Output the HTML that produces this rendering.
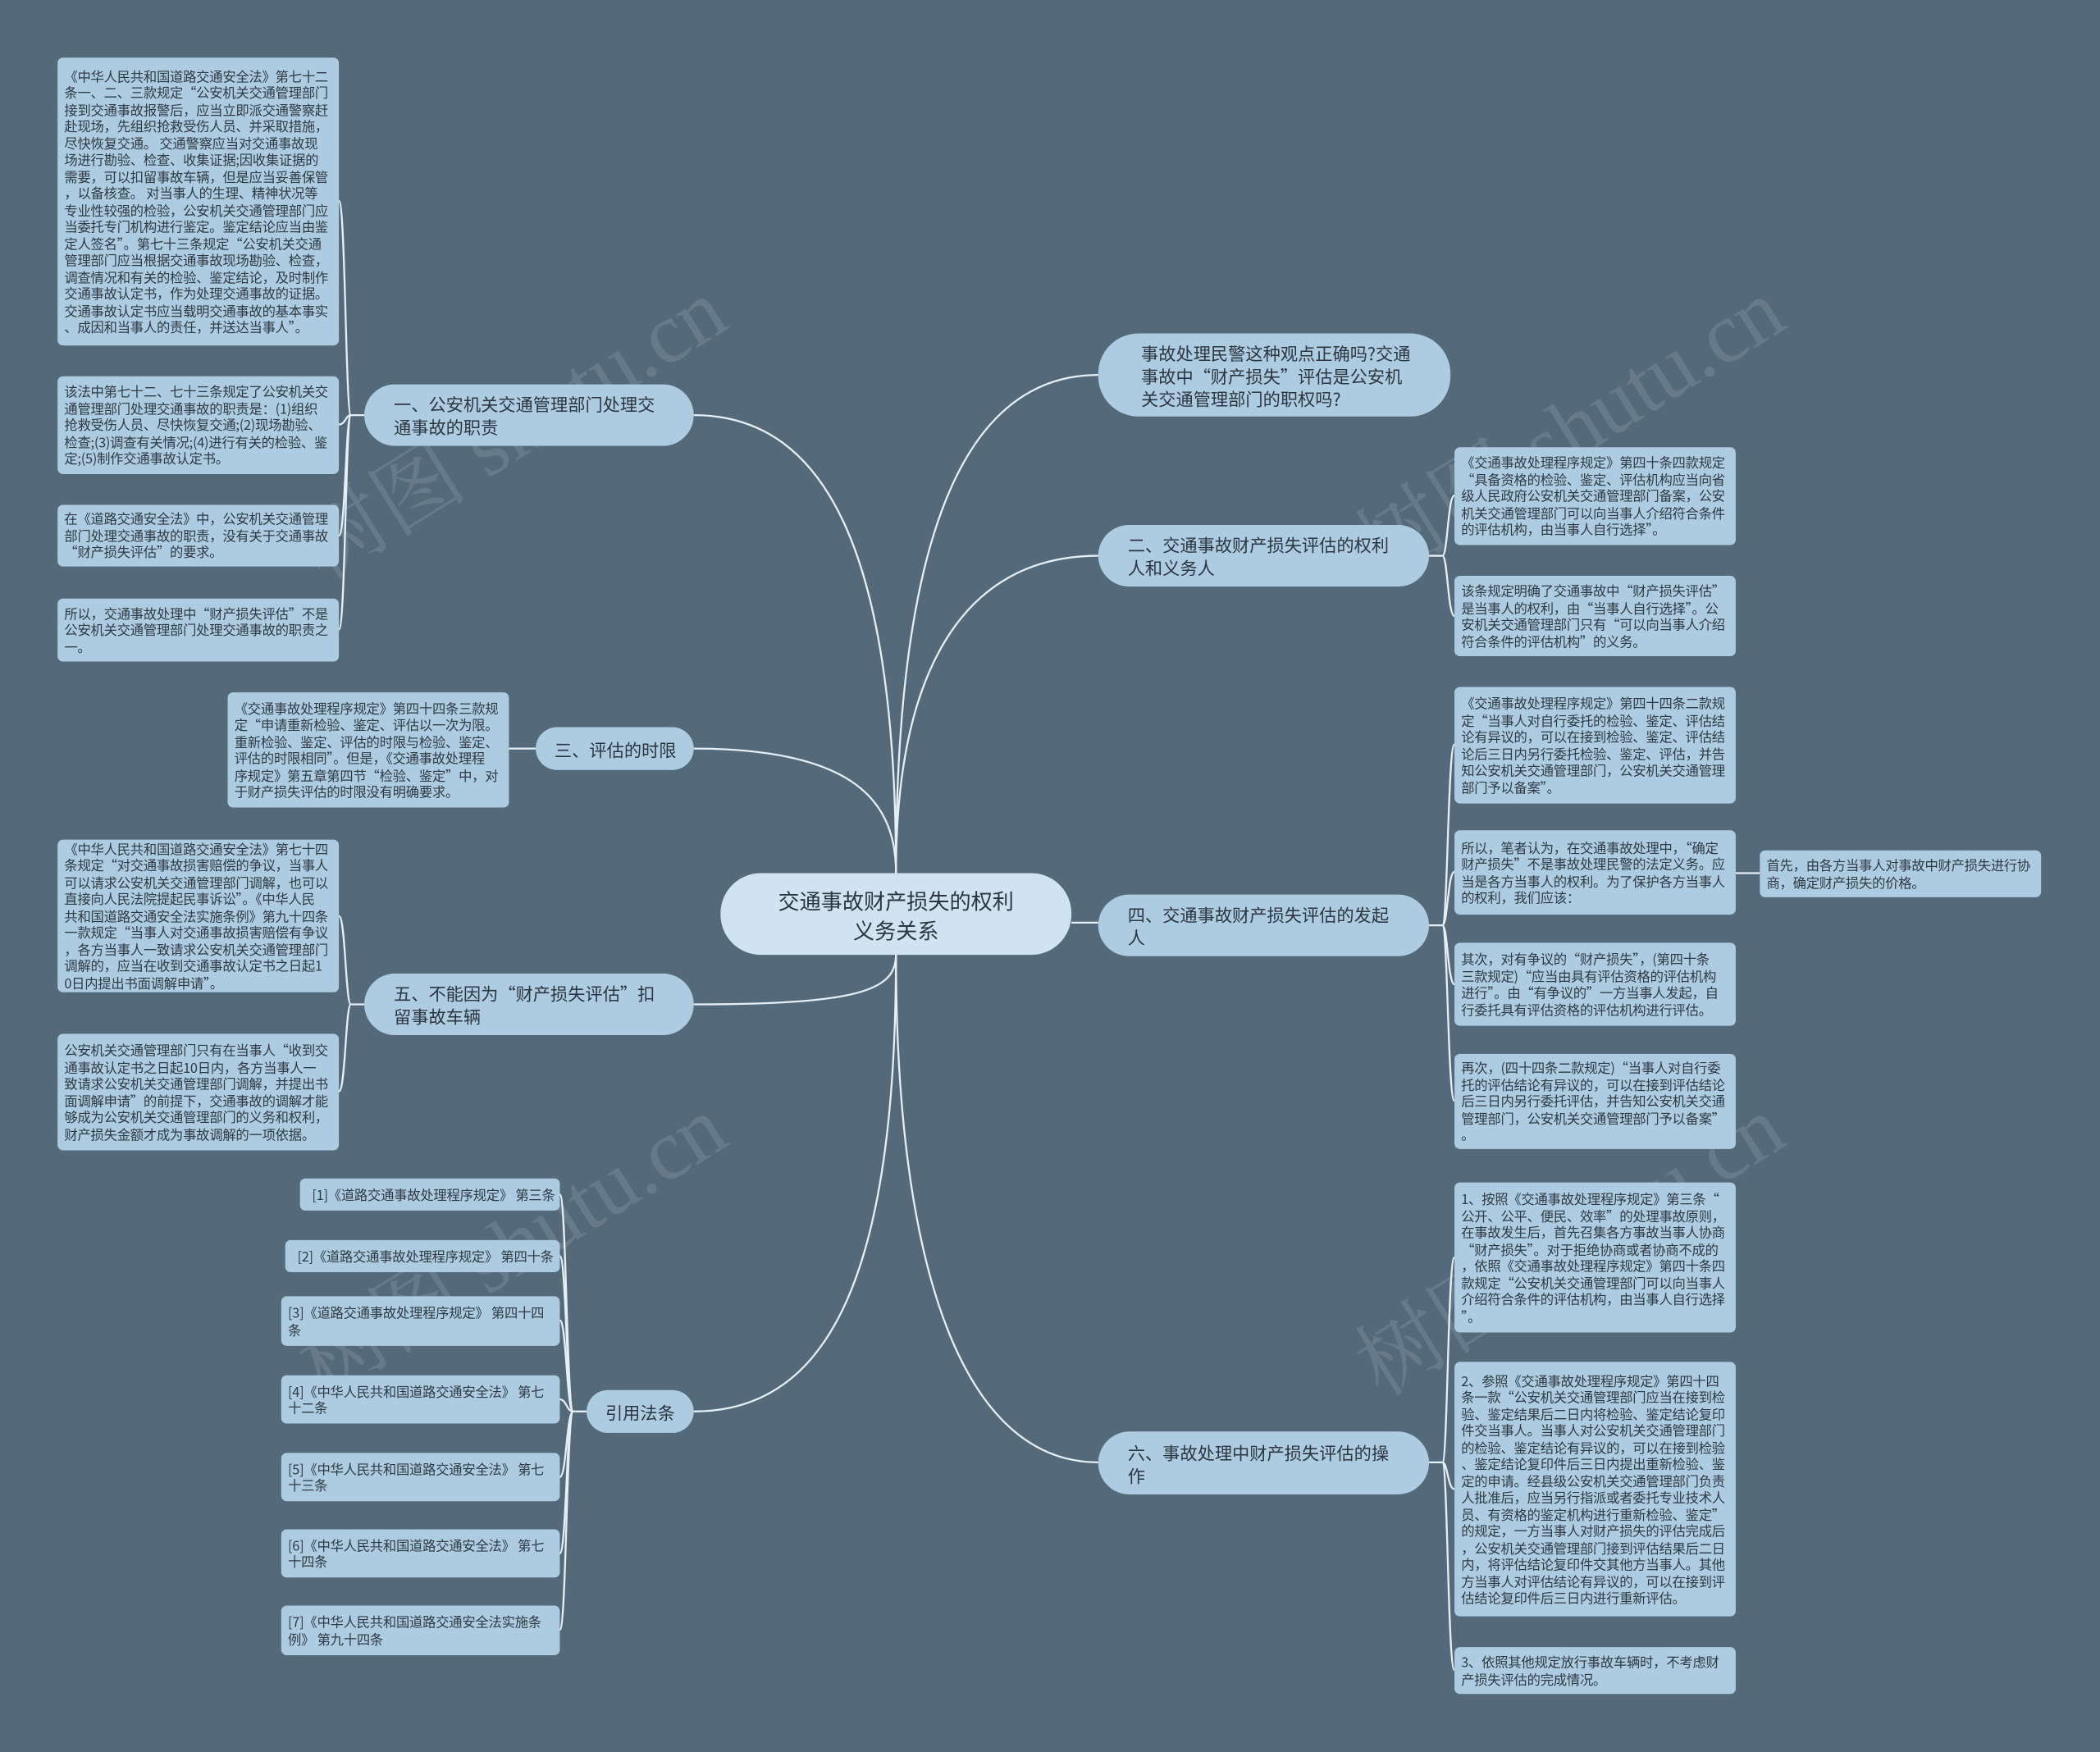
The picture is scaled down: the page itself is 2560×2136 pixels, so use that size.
<!DOCTYPE html>
<html><head><meta charset="utf-8">
<style>
html,body{margin:0;padding:0;width:2560px;height:2136px;overflow:hidden;background:#546a7b;}
#w{position:absolute;left:0;top:0;width:1568px;height:1308px;transform:scale(1.63265);transform-origin:0 0;font-family:"Noto Sans CJK SC","Liberation Sans",sans-serif;color:#2e3a44;}
.n{position:absolute;box-sizing:border-box;background:#adcbe1;border-radius:4px;display:flex;align-items:center;font-size:10px;line-height:12.5px;padding:0 5px;white-space:nowrap;letter-spacing:-0.15px;}
.b{position:absolute;box-sizing:border-box;background:#adcbe1;border-radius:24px;display:flex;align-items:center;font-size:13px;line-height:17px;padding:0 22px;white-space:nowrap;color:#2b3640;}
.wm{position:absolute;font-size:64px;color:rgba(150,165,176,0.28);transform:rotate(-32deg);white-space:nowrap;font-family:"Liberation Serif","Noto Serif CJK SC",serif;}
svg{position:absolute;left:0;top:0;}
</style></head><body><div id="w">
<div class="wm" style="left:200px;top:270px">树图 shutu.cn</div>
<div class="wm" style="left:990px;top:270px">树图 shutu.cn</div>
<div class="wm" style="left:200px;top:880px">树图 shutu.cn</div>
<div class="wm" style="left:990px;top:880px">树图 shutu.cn</div>
<svg width="1568" height="1308" fill="none" stroke="#e6eff5" stroke-width="1.4">
<path d="M669,652 C669,400 720,280 820,280"/>
<path d="M669,652 C669,500 720,415 820,415"/>
<path d="M800,689 L820,689"/>
<path d="M669,713 C669,950 720,1092 820,1092"/>
<path d="M669,652 C669,420 620,310 518,310"/>
<path d="M669,652 C669,600 640,559 518,559"/>
<path d="M669,713 C669,740 640,750 518,750"/>
<path d="M669,713 C669,950 620,1054 518,1054"/>
<path d="M272,310 L262,310"/>
<path d="M262,310 C258,310 258,150 253,150"/>
<path d="M262,310 C258,310 258,317 253,317"/>
<path d="M262,310 C258,310 258,400 253,400"/>
<path d="M262,310 C258,310 258,470 253,470"/>
<path d="M400,559 L380,559"/>
<path d="M272,750 L262,750"/>
<path d="M262,750 C258,750 258,684 253,684"/>
<path d="M262,750 C258,750 258,815 253,815"/>
<path d="M438,1054 L428,1054"/>
<path d="M428,1054 C423,1054 423,892 418,892"/>
<path d="M428,1054 C423,1054 423,938 418,938"/>
<path d="M428,1054 C423,1054 423,986 418,986"/>
<path d="M428,1054 C423,1054 423,1045 418,1045"/>
<path d="M428,1054 C423,1054 423,1103 418,1103"/>
<path d="M428,1054 C423,1054 423,1160 418,1160"/>
<path d="M428,1054 C423,1054 423,1217 418,1217"/>
<path d="M1067,415 L1077,415"/>
<path d="M1077,415 C1081,415 1081,370 1086,370"/>
<path d="M1077,415 C1081,415 1081,460 1086,460"/>
<path d="M1067,691 L1077,691"/>
<path d="M1077,691 C1081,691 1081,556 1086,556"/>
<path d="M1077,691 C1081,691 1081,651 1086,651"/>
<path d="M1077,691 C1081,691 1081,735 1086,735"/>
<path d="M1077,691 C1081,691 1081,822 1086,822"/>
<path d="M1296,652 L1314,652"/>
<path d="M1067,1092 L1077,1092"/>
<path d="M1077,1092 C1081,1092 1081,939 1086,939"/>
<path d="M1077,1092 C1081,1092 1081,1112 1086,1112"/>
<path d="M1077,1092 C1081,1092 1081,1247 1086,1247"/>
</svg>

<div class="b" style="left:538px;top:652px;width:262px;height:61px;background:#cfe4f0;border-radius:30px;font-size:16px;line-height:22px;justify-content:center;text-align:center;padding:0">交通事故财产损失的权利<br>义务关系</div>

<div class="b" style="left:820px;top:249px;width:263px;height:62px;border-radius:30px;padding-left:32px">事故处理民警这种观点正确吗?交通<br>事故中“财产损失”评估是公安机<br>关交通管理部门的职权吗?</div>
<div class="b" style="left:820px;top:392px;width:247px;height:46px">二、交通事故财产损失评估的权利<br>人和义务人</div>
<div class="b" style="left:820px;top:668px;width:247px;height:46px">四、交通事故财产损失评估的发起<br>人</div>
<div class="b" style="left:820px;top:1069px;width:247px;height:47px">六、事故处理中财产损失评估的操<br>作</div>

<div class="b" style="left:272px;top:287px;width:246px;height:46px">一、公安机关交通管理部门处理交<br>通事故的职责</div>
<div class="b" style="left:400px;top:543px;width:118px;height:32px;padding-left:14px">三、评估的时限</div>
<div class="b" style="left:272px;top:727px;width:246px;height:46px">五、不能因为“财产损失评估”扣<br>留事故车辆</div>
<div class="b" style="left:438px;top:1038px;width:80px;height:32px;padding-left:14px">引用法条</div>

<div class="n" style="left:43px;top:43px;width:210px;height:215px">《中华人民共和国道路交通安全法》第七十二<br>条一、二、三款规定“公安机关交通管理部门<br>接到交通事故报警后，应当立即派交通警察赶<br>赴现场，先组织抢救受伤人员、并采取措施，<br>尽快恢复交通。 交通警察应当对交通事故现<br>场进行勘验、检查、收集证据;因收集证据的<br>需要，可以扣留事故车辆，但是应当妥善保管<br>，以备核查。 对当事人的生理、精神状况等<br>专业性较强的检验，公安机关交通管理部门应<br>当委托专门机构进行鉴定。鉴定结论应当由鉴<br>定人签名”。第七十三条规定“公安机关交通<br>管理部门应当根据交通事故现场勘验、检查，<br>调查情况和有关的检验、鉴定结论，及时制作<br>交通事故认定书，作为处理交通事故的证据。<br>交通事故认定书应当载明交通事故的基本事实<br>、成因和当事人的责任，并送达当事人”。</div>
<div class="n" style="left:43px;top:281px;width:210px;height:73px">该法中第七十二、七十三条规定了公安机关交<br>通管理部门处理交通事故的职责是：(1)组织<br>抢救受伤人员、尽快恢复交通;(2)现场勘验、<br>检查;(3)调查有关情况;(4)进行有关的检验、鉴<br>定;(5)制作交通事故认定书。</div>
<div class="n" style="left:43px;top:377px;width:210px;height:46px">在《道路交通安全法》中，公安机关交通管理<br>部门处理交通事故的职责，没有关于交通事故<br>“财产损失评估”的要求。</div>
<div class="n" style="left:43px;top:447px;width:210px;height:47px">所以，交通事故处理中“财产损失评估”不是<br>公安机关交通管理部门处理交通事故的职责之<br>一。</div>

<div class="n" style="left:170px;top:517px;width:210px;height:86px">《交通事故处理程序规定》第四十四条三款规<br>定“申请重新检验、鉴定、评估以一次为限。<br>重新检验、鉴定、评估的时限与检验、鉴定、<br>评估的时限相同”。但是，《交通事故处理程<br>序规定》第五章第四节“检验、鉴定”中，对<br>于财产损失评估的时限没有明确要求。</div>

<div class="n" style="left:43px;top:627px;width:210px;height:114px">《中华人民共和国道路交通安全法》第七十四<br>条规定“对交通事故损害赔偿的争议，当事人<br>可以请求公安机关交通管理部门调解，也可以<br>直接向人民法院提起民事诉讼”。《中华人民<br>共和国道路交通安全法实施条例》第九十四条<br>一款规定“当事人对交通事故损害赔偿有争议<br>，各方当事人一致请求公安机关交通管理部门<br>调解的，应当在收到交通事故认定书之日起1<br>0日内提出书面调解申请”。</div>
<div class="n" style="left:43px;top:772px;width:210px;height:87px">公安机关交通管理部门只有在当事人“收到交<br>通事故认定书之日起10日内，各方当事人一<br>致请求公安机关交通管理部门调解，并提出书<br>面调解申请”的前提下，交通事故的调解才能<br>够成为公安机关交通管理部门的义务和权利，<br>财产损失金额才成为事故调解的一项依据。</div>

<div class="n" style="left:224px;top:880px;width:194px;height:24px;padding-left:9px">[1]《道路交通事故处理程序规定》 第三条</div>
<div class="n" style="left:213px;top:926px;width:205px;height:24px;padding-left:9px">[2]《道路交通事故处理程序规定》 第四十条</div>
<div class="n" style="left:210px;top:968px;width:208px;height:37px">[3]《道路交通事故处理程序规定》 第四十四<br>条</div>
<div class="n" style="left:210px;top:1027px;width:208px;height:36px">[4]《中华人民共和国道路交通安全法》 第七<br>十二条</div>
<div class="n" style="left:210px;top:1085px;width:208px;height:36px">[5]《中华人民共和国道路交通安全法》 第七<br>十三条</div>
<div class="n" style="left:210px;top:1142px;width:208px;height:36px">[6]《中华人民共和国道路交通安全法》 第七<br>十四条</div>
<div class="n" style="left:210px;top:1199px;width:208px;height:37px">[7]《中华人民共和国道路交通安全法实施条<br>例》 第九十四条</div>

<div class="n" style="left:1086px;top:334px;width:210px;height:73px">《交通事故处理程序规定》第四十条四款规定<br>“具备资格的检验、鉴定、评估机构应当向省<br>级人民政府公安机关交通管理部门备案，公安<br>机关交通管理部门可以向当事人介绍符合条件<br>的评估机构，由当事人自行选择”。</div>
<div class="n" style="left:1086px;top:430px;width:210px;height:60px">该条规定明确了交通事故中“财产损失评估”<br>是当事人的权利，由“当事人自行选择”。公<br>安机关交通管理部门只有“可以向当事人介绍<br>符合条件的评估机构”的义务。</div>

<div class="n" style="left:1086px;top:513px;width:210px;height:87px">《交通事故处理程序规定》第四十四条二款规<br>定“当事人对自行委托的检验、鉴定、评估结<br>论有异议的，可以在接到检验、鉴定、评估结<br>论后三日内另行委托检验、鉴定、评估，并告<br>知公安机关交通管理部门，公安机关交通管理<br>部门予以备案”。</div>
<div class="n" style="left:1086px;top:620px;width:210px;height:63px">所以，笔者认为，在交通事故处理中，“确定<br>财产损失”不是事故处理民警的法定义务。应<br>当是各方当事人的权利。为了保护各方当事人<br>的权利，我们应该：</div>
<div class="n" style="left:1086px;top:704px;width:210px;height:62px">其次，对有争议的“财产损失”，(第四十条<br>三款规定)“应当由具有评估资格的评估机构<br>进行”。由“有争议的”一方当事人发起，自<br>行委托具有评估资格的评估机构进行评估。</div>
<div class="n" style="left:1086px;top:787px;width:210px;height:71px">再次，(四十四条二款规定)“当事人对自行委<br>托的评估结论有异议的，可以在接到评估结论<br>后三日内另行委托评估，并告知公安机关交通<br>管理部门，公安机关交通管理部门予以备案”<br>。</div>
<div class="n" style="left:1314px;top:635px;width:210px;height:35px">首先，由各方当事人对事故中财产损失进行协<br>商，确定财产损失的价格。</div>

<div class="n" style="left:1086px;top:883px;width:210px;height:112px">1、按照《交通事故处理程序规定》第三条“<br>公开、公平、便民、效率”的处理事故原则，<br>在事故发生后，首先召集各方事故当事人协商<br>“财产损失”。对于拒绝协商或者协商不成的<br>，依照《交通事故处理程序规定》第四十条四<br>款规定“公安机关交通管理部门可以向当事人<br>介绍符合条件的评估机构，由当事人自行选择<br>”。</div>
<div class="n" style="left:1086px;top:1017px;width:210px;height:190px">2、参照《交通事故处理程序规定》第四十四<br>条一款“公安机关交通管理部门应当在接到检<br>验、鉴定结果后二日内将检验、鉴定结论复印<br>件交当事人。当事人对公安机关交通管理部门<br>的检验、鉴定结论有异议的，可以在接到检验<br>、鉴定结论复印件后三日内提出重新检验、鉴<br>定的申请。经县级公安机关交通管理部门负责<br>人批准后，应当另行指派或者委托专业技术人<br>员、有资格的鉴定机构进行重新检验、鉴定”<br>的规定，一方当事人对财产损失的评估完成后<br>，公安机关交通管理部门接到评估结果后二日<br>内，将评估结论复印件交其他方当事人。其他<br>方当事人对评估结论有异议的，可以在接到评<br>估结论复印件后三日内进行重新评估。</div>
<div class="n" style="left:1086px;top:1230px;width:210px;height:35px">3、依照其他规定放行事故车辆时，不考虑财<br>产损失评估的完成情况。</div>
</div></body></html>
